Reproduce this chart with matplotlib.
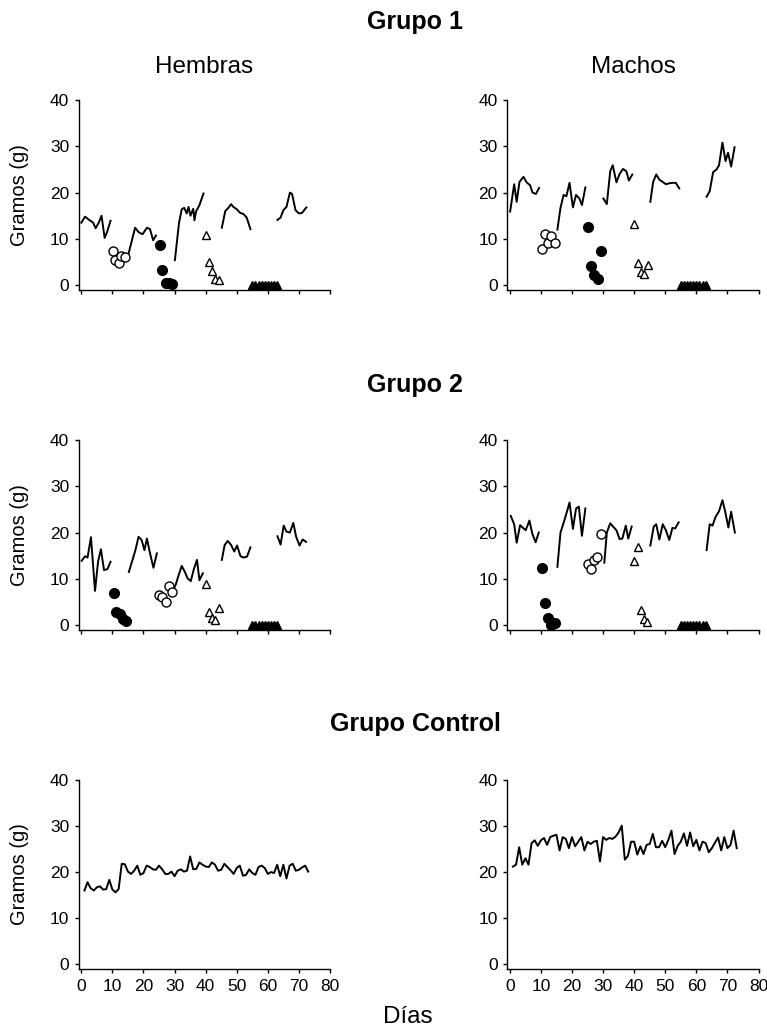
import numpy as np
import matplotlib.pyplot as plt

plt.rcParams['font.family'] = ['Liberation Sans', 'DejaVu Sans']

# ---- Grupo 1, hembras ----
g1h_line_x = [[0, 1.2, 2.5, 3.8, 4.6, 5.6, 6.5, 7.5, 8.3, 9.4],
              [15.0, 17.3, 18.5, 19.7, 21.1, 22.1, 23.1, 24.0],
              [30.1, 31.4, 32.3, 33.1, 33.9, 34.5, 35.1, 36.0, 36.4, 36.9, 38.0, 39.3],
              [45.2, 46.3, 47.3, 48.2, 48.9, 50.0, 51.1, 52.1, 53.2, 54.4],
              [63.1, 64.1, 65.0, 66.0, 67.1, 67.8, 68.9, 70.0, 71.0, 72.4]]
g1h_line_y = [[13.5, 14.8, 14.1, 13.5, 12.3, 13.5, 15.0, 10.2, 11.5, 13.9],
              [6.3, 12.4, 11.4, 11.0, 12.4, 12.1, 9.7, 10.7],
              [5.4, 13.3, 16.4, 16.7, 15.5, 16.9, 15.0, 16.5, 14.0, 15.9, 17.3, 19.8],
              [12.4, 16.0, 16.7, 17.5, 16.9, 16.4, 15.6, 15.4, 14.6, 12.1],
              [14.1, 14.6, 16.2, 16.9, 20.0, 19.7, 16.2, 15.5, 15.6, 16.8]]
g1h_oc_x = [10.1, 10.9, 12.0, 12.9, 14.1]
g1h_oc_y = [7.4, 5.4, 4.8, 6.3, 6.1]
g1h_fc_x = [25.3, 26.1, 27.2, 28.2, 29.3]
g1h_fc_y = [8.7, 3.3, 0.5, 0.4, 0.2]
g1h_ot_x = [40.2, 41.2, 42.1, 43.1, 44.3]
g1h_ot_y = [10.8, 5.0, 3.0, 1.4, 1.1]

# ---- Grupo 1, machos ----
g1m_line_x = [[0.1, 1.4, 2.2, 3.1, 4.4, 5.4, 6.5, 7.3, 8.4, 9.4],
              [15.3, 16.3, 17.3, 18.2, 19.2, 20.3, 21.3, 22.4, 23.2, 24.3],
              [30.1, 31.2, 32.3, 33.1, 34.3, 35.3, 36.4, 37.5, 38.3, 39.4],
              [45.2, 46.1, 47.1, 48.1, 49.2, 50.2, 51.3, 52.3, 53.4, 54.5],
              [63.3, 64.3, 65.4, 66.5, 67.3, 68.4, 69.4, 70.2, 71.2, 72.3]]
g1m_line_y = [[15.9, 21.8, 18.0, 22.3, 23.4, 22.2, 21.6, 20.0, 19.7, 21.0],
              [12.0, 16.7, 19.5, 19.2, 22.1, 16.8, 19.5, 18.7, 17.3, 21.1],
              [18.7, 17.5, 24.6, 25.9, 22.2, 24.0, 25.1, 24.6, 22.6, 23.9],
              [18.0, 22.3, 23.9, 22.8, 22.3, 21.8, 22.0, 22.1, 22.1, 20.9],
              [19.1, 20.3, 24.4, 25.0, 25.9, 30.8, 26.8, 28.6, 25.6, 29.8]]
g1m_oc_x = [10.4, 11.3, 12.3, 13.4, 14.4]
g1m_oc_y = [7.9, 11.1, 9.0, 10.7, 9.2]
g1m_fc_x = [25.3, 26.2, 27.2, 28.4, 29.3]
g1m_fc_y = [12.6, 4.1, 2.2, 1.3, 7.4]
g1m_ot_x = [40.1, 41.2, 42.1, 43.3, 44.3]
g1m_ot_y = [13.2, 4.8, 2.9, 2.3, 4.3]

# ---- Grupo 2, hembras ----
g2h_line_x = [[0.1, 1.2, 2.0, 3.1, 4.4, 5.4, 6.3, 7.3, 8.4, 9.4],
              [15.3, 16.6, 17.4, 18.4, 19.4, 20.3, 21.1, 22.1, 23.2, 24.3],
              [29.3, 30.4, 31.3, 32.3, 33.3, 34.2, 35.2, 36.2, 37.2, 38.0, 39.1],
              [45.2, 46.1, 47.1, 48.2, 49.2, 50.1, 51.2, 52.2, 53.3, 54.4],
              [63.1, 64.1, 65.1, 66.0, 67.1, 68.2, 69.1, 70.2, 71.2, 72.3]]
g2h_line_y = [[13.9, 14.9, 14.6, 19.0, 7.4, 13.8, 16.4, 11.9, 12.1, 13.7],
              [11.5, 14.4, 16.2, 19.1, 18.4, 16.2, 18.7, 15.5, 12.4, 15.5],
              [7.2, 8.8, 10.8, 12.8, 11.5, 10.1, 9.5, 12.1, 14.1, 9.7, 11.2],
              [14.1, 17.3, 18.2, 17.3, 15.9, 17.2, 14.9, 14.6, 14.8, 16.8],
              [19.2, 17.4, 21.5, 20.2, 20.0, 22.1, 19.1, 17.2, 18.5, 18.0]]
g2h_fc_x = [10.4, 11.3, 12.3, 13.4, 14.4]
g2h_fc_y = [7.0, 2.9, 2.5, 1.4, 0.9]
g2h_oc_x = [25.1, 26.1, 27.2, 28.2, 29.3]
g2h_oc_y = [6.5, 6.0, 5.0, 8.4, 7.2]
g2h_ot_x = [40.2, 41.2, 42.0, 43.1, 44.3]
g2h_ot_y = [8.8, 2.9, 1.6, 1.2, 3.6]

# ---- Grupo 2, machos ----
g2m_line_x = [[0.3, 1.4, 2.2, 3.3, 4.1, 5.1, 6.3, 7.2, 8.3, 9.3],
              [15.3, 16.3, 17.4, 18.4, 19.2, 20.3, 21.3, 22.2, 23.2, 24.3],
              [30.4, 31.2, 32.3, 33.2, 34.3, 35.3, 36.2, 37.3, 38.1, 39.2],
              [45.2, 46.3, 47.1, 48.1, 49.2, 50.2, 51.3, 52.3, 53.2, 54.3],
              [63.3, 64.3, 65.2, 66.2, 67.3, 68.4, 69.3, 70.3, 71.2, 72.4]]
g2m_line_y = [[23.6, 21.8, 17.8, 21.6, 21.1, 20.5, 22.6, 19.8, 17.9, 20.0],
              [12.6, 20.0, 22.3, 24.6, 26.5, 20.8, 25.2, 25.6, 19.3, 25.2],
              [13.5, 20.0, 22.0, 21.3, 20.5, 18.6, 18.7, 21.5, 18.7, 21.3],
              [17.2, 21.3, 21.8, 18.5, 21.8, 20.5, 18.4, 21.0, 20.9, 22.2],
              [16.2, 21.8, 21.5, 23.4, 24.6, 27.0, 24.5, 21.1, 24.5, 20.0]]
g2m_fc_x = [10.3, 11.3, 12.3, 13.4, 14.4]
g2m_fc_y = [12.3, 4.8, 1.6, 0.1, 0.4]
g2m_oc_x = [25.2, 26.1, 27.1, 28.2, 29.3]
g2m_oc_y = [13.3, 12.1, 14.1, 14.8, 19.7]
g2m_ot_x = [40.1, 41.2, 42.1, 43.1, 44.2]
g2m_ot_y = [13.8, 16.8, 3.2, 1.3, 0.7]

# filled triangles at zero (same days in all treated panels)
ft_x = [55, 56, 57, 58, 59, 60, 61, 62, 63]
ft_y = [0, 0, 0, 0, 0, 0, 0, 0, 0]

# ---- Grupo Control ----
ctrl_days = np.arange(1, 74)
ctrl_h = [16.0, 17.8, 16.5, 16.0, 16.7, 16.9, 16.2, 16.3, 18.3, 16.2,
          15.6, 16.3, 21.8, 21.7, 20.1, 19.6, 20.3, 21.4, 19.4, 19.8,
          21.4, 21.1, 20.6, 20.5, 21.4, 20.6, 19.6, 19.6, 20.1, 19.1,
          20.3, 20.6, 20.1, 20.3, 23.4, 20.6, 20.7, 22.1, 21.6, 21.2,
          21.1, 22.1, 21.6, 20.3, 20.5, 21.8, 21.1, 20.4, 19.6, 20.9,
          21.4, 19.2, 19.4, 20.6, 19.8, 19.4, 21.1, 21.4, 20.9, 19.6,
          20.0, 19.8, 21.6, 19.1, 21.6, 18.6, 21.4, 21.8, 20.3, 20.5,
          21.0, 21.4, 20.1]
ctrl_m = [21.2, 21.6, 25.4, 21.6, 23.0, 21.6, 26.3, 26.9, 25.7, 26.9,
          27.4, 25.9, 27.6, 27.9, 28.1, 24.7, 27.6, 27.2, 25.2, 27.6,
          25.6, 26.6, 27.6, 24.7, 26.6, 26.1, 26.6, 26.8, 22.3, 27.6,
          27.0, 27.4, 27.2, 27.7, 28.6, 30.1, 22.7, 23.5, 26.6, 26.6,
          23.8, 25.6, 23.9, 25.9, 26.1, 28.3, 25.4, 25.4, 26.8, 25.4,
          27.0, 29.0, 23.9, 25.7, 26.6, 28.4, 25.7, 28.6, 25.6, 27.0,
          24.7, 26.6, 26.3, 24.3, 25.2, 26.4, 27.5, 24.7, 27.6, 25.2,
          25.9, 29.0, 25.2]

W, H = 767, 1028
fig = plt.figure(figsize=(W / 100, H / 100), dpi=100)


def make_ax(left_px, top_px, bottom_px, labels):
    ax = fig.add_axes([left_px / W, 1 - bottom_px / H, 251 / W, (bottom_px - top_px) / H])
    ax.set_xlim(-0.75, 80)
    ax.set_ylim(-1.05, 40)
    ax.set_yticks([0, 10, 20, 30, 40])
    ax.set_xticks(np.arange(0, 81, 10))
    for s in ['top', 'right']:
        ax.spines[s].set_visible(False)
    for s in ['left', 'bottom']:
        ax.spines[s].set_linewidth(1.0)
    ax.tick_params(axis='y', length=3, width=1, pad=4, labelsize=12.5)
    ax.tick_params(axis='x', length=3, width=1, pad=4, labelsize=12.5,
                   labelbottom=labels)
    return ax


def treated(ax, lx, ly, oc_x, oc_y, fc_x, fc_y, ot_x, ot_y):
    for xs, ys in zip(lx, ly):
        ax.plot(xs, ys, color='black', lw=1.4, zorder=2)
    ax.plot(oc_x, oc_y, 'o', ms=6.5, mfc='white', mec='black', mew=1, zorder=3)
    ax.plot(fc_x, fc_y, 'o', ms=7, mfc='black', mec='black', zorder=3)
    ax.plot(ot_x, ot_y, '^', ms=5.5, mfc='white', mec='black', mew=1, zorder=3)
    ax.plot(ft_x, ft_y, '^', ms=6, mfc='black', mec='black', zorder=3,
            clip_on=False)


ax1 = make_ax(79, 100, 290, False)
treated(ax1, g1h_line_x, g1h_line_y, g1h_oc_x, g1h_oc_y, g1h_fc_x, g1h_fc_y, g1h_ot_x, g1h_ot_y)
ax2 = make_ax(507.5, 100, 290, False)
treated(ax2, g1m_line_x, g1m_line_y, g1m_oc_x, g1m_oc_y, g1m_fc_x, g1m_fc_y, g1m_ot_x, g1m_ot_y)
ax3 = make_ax(79, 440, 630, False)
treated(ax3, g2h_line_x, g2h_line_y, g2h_oc_x, g2h_oc_y, g2h_fc_x, g2h_fc_y, g2h_ot_x, g2h_ot_y)
ax4 = make_ax(507.5, 440, 630, False)
treated(ax4, g2m_line_x, g2m_line_y, g2m_oc_x, g2m_oc_y, g2m_fc_x, g2m_fc_y, g2m_ot_x, g2m_ot_y)
ax5 = make_ax(79, 780, 969, True)
ax5.plot(ctrl_days, ctrl_h, color='black', lw=1.4)
ax6 = make_ax(507.5, 780, 969, True)
ax6.plot(ctrl_days, ctrl_m, color='black', lw=1.4)

for ax in (ax1, ax3, ax5):
    ax.set_ylabel('Gramos (g)', fontsize=14.5)
    ax.yaxis.set_label_coords(-0.20, 0.5)

# titles
def ftext(x, y, s, **kw):
    fig.text(x / W, 1 - y / H, s, ha='center', va='baseline', **kw)

ftext(415, 29, 'Grupo 1', fontsize=18, fontweight='bold')
ftext(415, 392, 'Grupo 2', fontsize=18, fontweight='bold')
ftext(415, 731, 'Grupo Control', fontsize=18, fontweight='bold')
ftext(204, 73, 'Hembras', fontsize=17.5)
ftext(633, 73, 'Machos', fontsize=17.5)
ftext(408, 1023, 'Días', fontsize=17.5)

fig.savefig('out.png', dpi=100, facecolor='white')
